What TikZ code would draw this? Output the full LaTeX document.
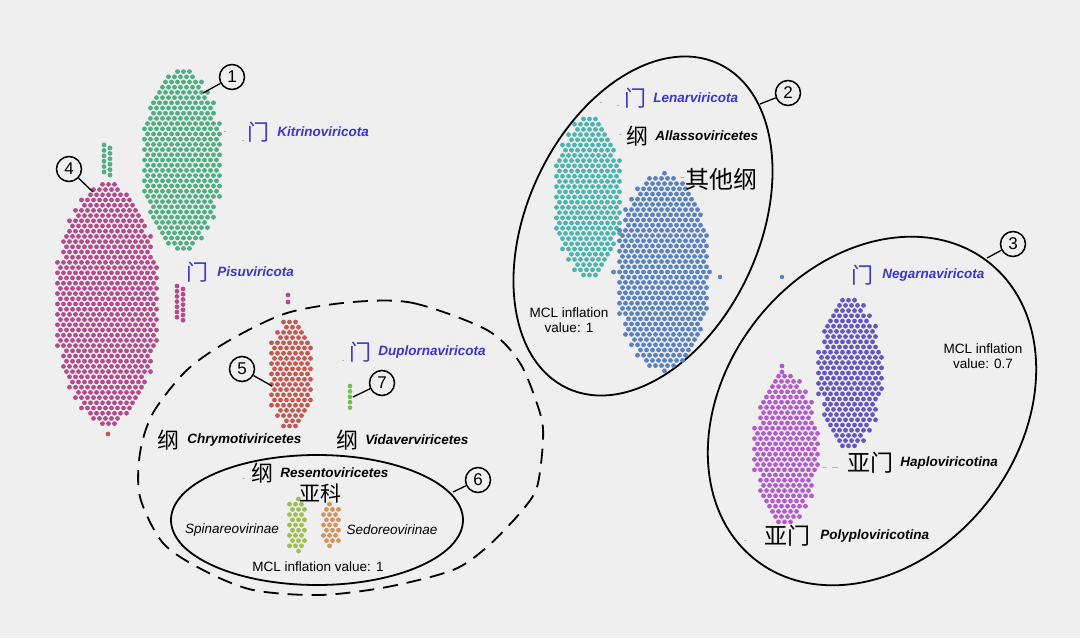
\documentclass[tikz,border=0pt]{standalone}
\usepackage{fontspec}
\setmainfont{Liberation Sans}
\newfontfamily\cjk{Noto Sans CJK SC}
\usetikzlibrary{positioning}

\definecolor{bgpaper}{HTML}{EFEFEF}
\definecolor{labblue}{HTML}{3B35C8}
\definecolor{kitrigreen}{HTML}{4FAF82}
\definecolor{pisupink}{HTML}{B24C8C}
\definecolor{chrymored}{HTML}{C35A52}
\definecolor{vidagreen}{HTML}{6DC24A}
\definecolor{spinalime}{HTML}{9DBF52}
\definecolor{sedoorange}{HTML}{D4955A}
\definecolor{allateal}{HTML}{4CB5AE}
\definecolor{otherblue}{HTML}{5B82C0}
\definecolor{haploviolet}{HTML}{6657C0}
\definecolor{polypurple}{HTML}{B45BCB}

% lens shaped cloud of dots: cx, cy, rx, ry, colour, name
\newcommand{\dotblob}[6]{%
  \pgfmathtruncatemacro\nrows{#4/5.2}
  \foreach \rw in {-\nrows,...,\nrows}{
    \pgfmathsetmacro\hw{#3*pow(max(0.0001,1-(\rw*5.2/#4)*(\rw*5.2/#4)),0.55)}
    \pgfmathtruncatemacro\ncols{\hw/6}
    \pgfmathsetmacro\off{(mod(abs(\rw),2)-0.5)*3}
    \foreach \cl in {-\ncols,...,\ncols}
      \fill[#5] ({#1+\cl*6+\off},{#2+\rw*5.2}) circle (2.4);
  }
  \coordinate (#6) at (#1,#2);
}

\tikzset{
  taxon/.style={anchor=west, inner sep=0pt, font=\fontsize{13.5}{15}\selectfont\bfseries\itshape},
  subfam/.style={inner sep=0pt, font=\fontsize{13.5}{15}\selectfont\itshape},
  hanzi/.style={inner sep=0pt, font=\fontsize{22}{24}\selectfont\cjk},
  mcl/.style={align=center, inner sep=0pt, font=\fontsize{13.5}{15.5}\selectfont},
  numcirc/.style={circle, draw, line width=1.5pt, minimum size=25pt, inner sep=0pt, font=\fontsize{17}{17}\selectfont},
  group/.style={line width=1.8pt},
  leader/.style={line width=1.3pt},
  faint/.style={gray!55, line width=0.8pt}
}

\begin{document}
\begin{tikzpicture}[x=1pt, y=-1pt]

  % paper
  \fill[bgpaper] (0,0) rectangle (1080,638);
  \useasboundingbox (0,0) rectangle (1080,638);

  % group outlines
  \draw[group] (643,226) ellipse [x radius=116, y radius=179, rotate=-25];
  \draw[group] (872,411) ellipse [x radius=147, y radius=189, rotate=-38];
  \draw[group, dash pattern=on 15pt off 9pt] plot[smooth cycle] coordinates {
    (353,302) (413,303) (487,330) (520,363) (540,413) (543,440) (537,487)
    (520,513) (487,547) (453,570) (387,587) (320,595) (253,590) (203,570)
    (163,543) (140,497) (140,453) (153,413) (187,370) (230,340) (287,313)};
  \draw[group] (317,520) ellipse [x radius=146, y radius=65];

  % dot clusters
  \dotblob{182}{160}{41}{90}{kitrigreen}{kitri}
  \dotblob{107}{304}{52}{121}{pisupink}{pisu}
  \dotblob{291}{374}{23}{56}{chrymored}{chrymo}
  \dotblob{588}{197}{34}{81}{allateal}{allasso}
  \dotblob{663}{272}{48}{99}{otherblue}{others}
  \dotblob{850}{373}{32}{77}{haploviolet}{haplo}
  \dotblob{786}{449}{32}{75}{polypurple}{polyplo}
  \dotblob{297}{525}{10}{27}{spinalime}{spina}
  \dotblob{331}{525}{9}{23}{sedoorange}{sedo}

  % small strands and stray dots
  \foreach \k in {0,...,5} {
    \fill[kitrigreen] (104,{145+\k*5.4}) circle (2.4);
    \fill[kitrigreen] (110,{148+\k*5.4}) circle (2.4);
  }
  \foreach \k in {0,...,6} {
    \fill[pisupink] (177,{286+\k*5.2}) circle (2.4);
    \fill[pisupink] (183,{289+\k*5.2}) circle (2.4);
  }
  \fill[pisupink] (288,295) circle (2.4) (288,302) circle (2.4);
  \foreach \k in {0,...,4}
    \fill[vidagreen] (350,{386+\k*5.4}) circle (2.3);
  \fill[chrymored] (108,434) circle (2.4);
  \fill[otherblue] (720,277) circle (2.2) (782,277) circle (2.2);
  \fill[polypurple] (782,366) circle (2.4) (782,372) circle (2.4);

  % phylum labels
  \node[hanzi, text=labblue] (kitriH) at (258,132) {门};
  \node[taxon, text=labblue, right=8pt of kitriH] (kitriT) {Kitrinoviricota};
  \node[hanzi, text=labblue] (pisuH) at (197,272) {门};
  \node[taxon, text=labblue, right=9pt of pisuH] (pisuT) {Pisuviricota};
  \node[hanzi, text=labblue] (duploH) at (360,352) {门};
  \node[taxon, text=labblue, right=7pt of duploH] (duploT) {Duplornaviricota};
  \node[hanzi, text=labblue] (lenarH) at (635,98) {门};
  \node[taxon, text=labblue, right=7pt of lenarH] (lenarT) {Lenarviricota};
  \node[hanzi, text=labblue] (negarH) at (862,275) {门};
  \node[taxon, text=labblue, right=9pt of negarH] (negarT) {Negarnaviricota};

  % class and subphylum labels
  \node[hanzi] (chrymoH) at (168,440) {纲};
  \node[taxon, right=8pt of chrymoH] (chrymoT) {Chrymotiviricetes};
  \node[hanzi] (vidaH) at (347,440) {纲};
  \node[taxon, right=7pt of vidaH] (vidaT) {Vidaverviricetes};
  \node[hanzi] (resentoH) at (262,473) {纲};
  \node[taxon, right=7pt of resentoH] (resentoT) {Resentoviricetes};
  \node[hanzi, font=\fontsize{21}{23}\selectfont\cjk] (subfamH) at (320,493) {亚科};
  \node[hanzi] (allassoH) at (637,136) {纲};
  \node[taxon, right=7pt of allassoH] (allassoT) {Allassoviricetes};
  \node[hanzi, font=\fontsize{24}{26}\selectfont\cjk] (othersH) at (721,179) {其他纲};
  \node[hanzi, font=\fontsize{23}{25}\selectfont\cjk] (haploH) at (870,463) {亚门};
  \node[taxon, right=7pt of haploH] (haploT) {Haploviricotina};
  \node[hanzi, font=\fontsize{23}{25}\selectfont\cjk] (polyploH) at (787,536) {亚门};
  \node[taxon, right=10pt of polyploH] (polyploT) {Polyploviricotina};

  % subfamilies
  \node[subfam] (spinaT) at (232,530) {Spinareovirinae};
  \node[subfam] (sedoT) at (392,530) {Sedoreovirinae};

  % MCL notes
  \node[mcl] (mclA) at (569,320) {MCL inflation\\value: 1};
  \node[mcl] (mclB) at (983,356) {MCL inflation\\value: 0.7};
  \node[mcl] (mclC) at (318,567) {MCL inflation value: 1};

  % faint leader marks
  \draw[faint] (224,131) -- (226,131) (242,140) -- (244,140);
  \draw[faint] (600,102) -- (602,102) (617,105) -- (619,105);
  \draw[faint] (619,134) -- (622,134);
  \draw[faint] (680,177) -- (684,177);
  \draw[faint] (822,467) -- (827,467) (832,467) -- (838,467);
  \draw[faint] (744,540) -- (747,540);
  \draw[faint] (242,478) -- (245,478);
  \draw[faint] (342,360) -- (344,360);

  % numbered callouts
  \node[numcirc] (n1) at (232,77) {1};
  \node[numcirc] (n2) at (788,93) {2};
  \node[numcirc] (n3) at (1013,244) {3};
  \node[numcirc] (n4) at (69,169) {4};
  \node[numcirc] (n5) at (242,369) {5};
  \node[numcirc] (n6) at (478,480) {6};
  \node[numcirc] (n7) at (382,383) {7};
  \coordinate (e1) at (203,93);
  \coordinate (e2) at (760,104);
  \coordinate (e3) at (987,258);
  \coordinate (e4) at (93,192);
  \coordinate (e5) at (272,386);
  \coordinate (e6) at (453,492);
  \coordinate (e7) at (353,397);
  \foreach \k in {1,...,7}
    \draw[leader] (n\k) -- (e\k);

\end{tikzpicture}
\end{document}
